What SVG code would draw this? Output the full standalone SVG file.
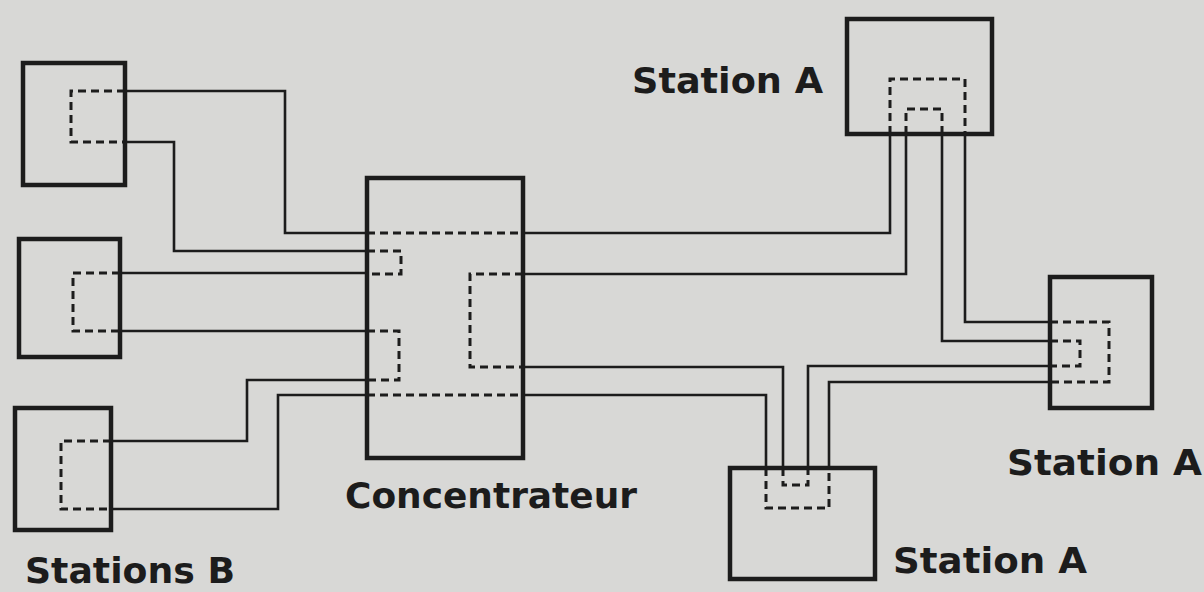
<svg xmlns="http://www.w3.org/2000/svg" width="1204" height="592" viewBox="0 0 1204 592">
<style>
.bg{fill:#d8d8d6}
.box{fill:none;stroke:#1c1c1c;stroke-width:4.5}
.dash{fill:none;stroke:#1c1c1c;stroke-width:3;stroke-dasharray:8 5}
.wire{fill:none;stroke:#1c1c1c;stroke-width:2.6;stroke-linejoin:miter}
.lbl{font-family:"DejaVu Sans","Liberation Sans",sans-serif;font-weight:bold;font-size:35px;fill:#1c1c1c}
</style>
<rect class="bg" x="0" y="0" width="1204" height="592"/>
<g id="connectors">
<path class="wire" d="M125,91 H285 V233 H367"/>
<path class="wire" d="M125,142 H174 V251 H367"/>
<path class="wire" d="M120,273 H367"/>
<path class="wire" d="M120,331 H367"/>
<path class="wire" d="M367,380 H247 V441 H111"/>
<path class="wire" d="M367,395 H278 V509 H111"/>
<path class="wire" d="M523,233 H890 V134"/>
<path class="wire" d="M523,274 H906 V134"/>
<path class="wire" d="M942,134 V341 H1050"/>
<path class="wire" d="M965,134 V322 H1050"/>
<path class="wire" d="M523,367 H783 V468"/>
<path class="wire" d="M523,395 H766 V468"/>
<path class="wire" d="M1050,366 H808 V468"/>
<path class="wire" d="M1050,382 H829 V468"/>
</g>
<g id="stationB1">
<rect class="box" x="23" y="63" width="102" height="122"/>
<path class="dash" d="M125,91 H71 V142 H125"/>
</g>
<g id="stationB2">
<rect class="box" x="19" y="239" width="101" height="118"/>
<path class="dash" d="M120,273 H73 V331 H120"/>
</g>
<g id="stationB3">
<rect class="box" x="15" y="408" width="96" height="122"/>
<path class="dash" d="M111,441 H61 V509 H111"/>
</g>
<g id="concentrateur">
<rect class="box" x="367" y="178" width="156" height="280"/>
<path class="dash" d="M367,233 H523"/>
<path class="dash" d="M367,251 H401 V274 H367"/>
<path class="dash" d="M523,274 H470 V367 H523"/>
<path class="dash" d="M367,331 H399 V380 H367"/>
<path class="dash" d="M367,395 H523"/>
</g>
<g id="stationA-top">
<rect class="box" x="847" y="19" width="145" height="115"/>
<path class="dash" d="M890,134 V79 H965 V134"/>
<path class="dash" d="M906,134 V109 H942 V134"/>
</g>
<g id="stationA-right">
<rect class="box" x="1050" y="277" width="102" height="131"/>
<path class="dash" d="M1050,322 H1109 V382 H1050"/>
<path class="dash" d="M1050,341 H1080 V366 H1050"/>
</g>
<g id="stationA-bottom">
<rect class="box" x="730" y="468" width="145" height="111"/>
<path class="dash" d="M766,468 V508 H829 V468"/>
<path class="dash" d="M783,468 V485 H808 V468"/>
</g>
<g id="labels">
<text class="lbl" x="632" y="93" textLength="191" lengthAdjust="spacingAndGlyphs">Station A</text>
<text class="lbl" x="1007" y="475" textLength="195" lengthAdjust="spacingAndGlyphs">Station A</text>
<text class="lbl" x="893" y="573" textLength="194" lengthAdjust="spacingAndGlyphs">Station A</text>
<text class="lbl" x="345" y="508" textLength="292" lengthAdjust="spacingAndGlyphs">Concentrateur</text>
<text class="lbl" x="25" y="583" textLength="210" lengthAdjust="spacingAndGlyphs">Stations B</text>
</g>
</svg>
